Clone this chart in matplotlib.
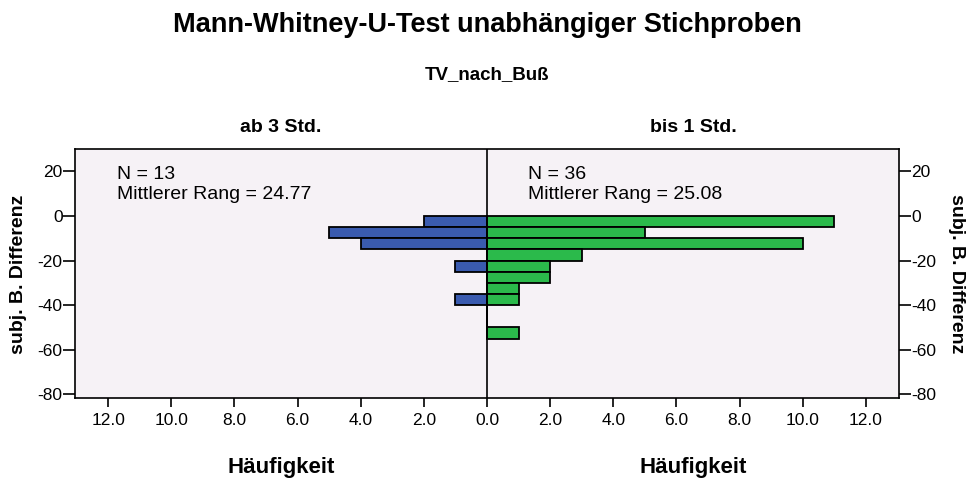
import numpy as np
import matplotlib
matplotlib.use("Agg")
import matplotlib.pyplot as plt
from matplotlib.ticker import FuncFormatter

plt.rcParams['font.family'] = ['Liberation Sans', 'DejaVu Sans']
plt.rcParams['axes.unicode_minus'] = False

# bin upper edges of subj. B. Differenz (width 5)
bin_upper = [0, -5, -10, -15, -20, -25, -30, -35, -40, -45, -50]
counts_ab3 = [2, 5, 4, 0, 1, 0, 0, 1, 0, 0, 0]
counts_bis1 = [11, 5, 10, 3, 2, 2, 1, 1, 0, 0, 1]
groups = ["ab 3 Std.", "bis 1 Std."]
n_vals = [13, 36]
mean_rank = [24.77, 25.08]
y_ticks = [20, 0, -20, -40, -60, -80]
x_ticks = [-12, -10, -8, -6, -4, -2, 0, 2, 4, 6, 8, 10, 12]
bin_w = 5

blue = '#3A5BAF'
green = '#2BBA4B'
bg = '#F6F2F6'

fig = plt.figure(figsize=(9.73, 4.79), dpi=100)
ax = fig.add_axes([75/973, 1-398/479, 824/973, 249/479])
ax.set_facecolor(bg)

lower = np.array(bin_upper) - bin_w
ax.barh(lower, -np.array(counts_ab3), height=bin_w, align='edge',
        color=blue, edgecolor='black', linewidth=1.3)
ax.barh(lower, counts_bis1, height=bin_w, align='edge',
        color=green, edgecolor='black', linewidth=1.3)
ax.axvline(0, color='black', linewidth=1.2)

ax.set_xlim(-13.05, 13.05)
ax.set_ylim(-81.6, 30)
ax.set_xticks(x_ticks)
ax.xaxis.set_major_formatter(FuncFormatter(lambda v, p: "%.1f" % abs(v)))
ax.set_yticks(y_ticks)
ax.tick_params(axis='both', direction='out', width=1.2,
               labelsize=12.5, colors='black')
ax.tick_params(axis='y', right=True, labelright=True, pad=0.5, length=8.5)
ax.tick_params(axis='x', pad=4, length=6.5)
for s in ax.spines.values():
    s.set_linewidth(1.2)

fig.text(19/973, 1-274/479, "subj. B. Differenz", rotation=90,
         ha='center', va='center', fontsize=14, fontweight='bold')
fig.text(957/973, 1-274/479, "subj. B. Differenz", rotation=270,
         ha='center', va='center', fontsize=14, fontweight='bold')

# panel headings and axis labels
for i, g in enumerate(groups):
    xc = 281/973 if i == 0 else 693/973
    fig.text(xc, 1-127/479, g, ha='center', va='center', fontsize=14,
             fontweight='bold')
    fig.text(xc, 1-467/479, "Häufigkeit", ha='center', va='center',
             fontsize=16, fontweight='bold')

ax.text(-11.72, 18.4, "N = %d" % n_vals[0], ha='left', va='center', fontsize=14)
ax.text(-11.72, 9.4, "Mittlerer Rang = %.2f" % mean_rank[0],
        ha='left', va='center', fontsize=14)
ax.text(1.29, 18.4, "N = %d" % n_vals[1], ha='left', va='center', fontsize=14)
ax.text(1.29, 9.4, "Mittlerer Rang = %.2f" % mean_rank[1],
        ha='left', va='center', fontsize=14)

fig.text(487/973, 1-25/479, "Mann-Whitney-U-Test unabhängiger Stichproben",
         ha='center', va='center', fontsize=19.5, fontweight='bold')
fig.text(487/973, 1-75/479, "TV_nach_Buß", ha='center', va='center',
         fontsize=13.5, fontweight='bold')

fig.savefig("out.png", dpi=100)
